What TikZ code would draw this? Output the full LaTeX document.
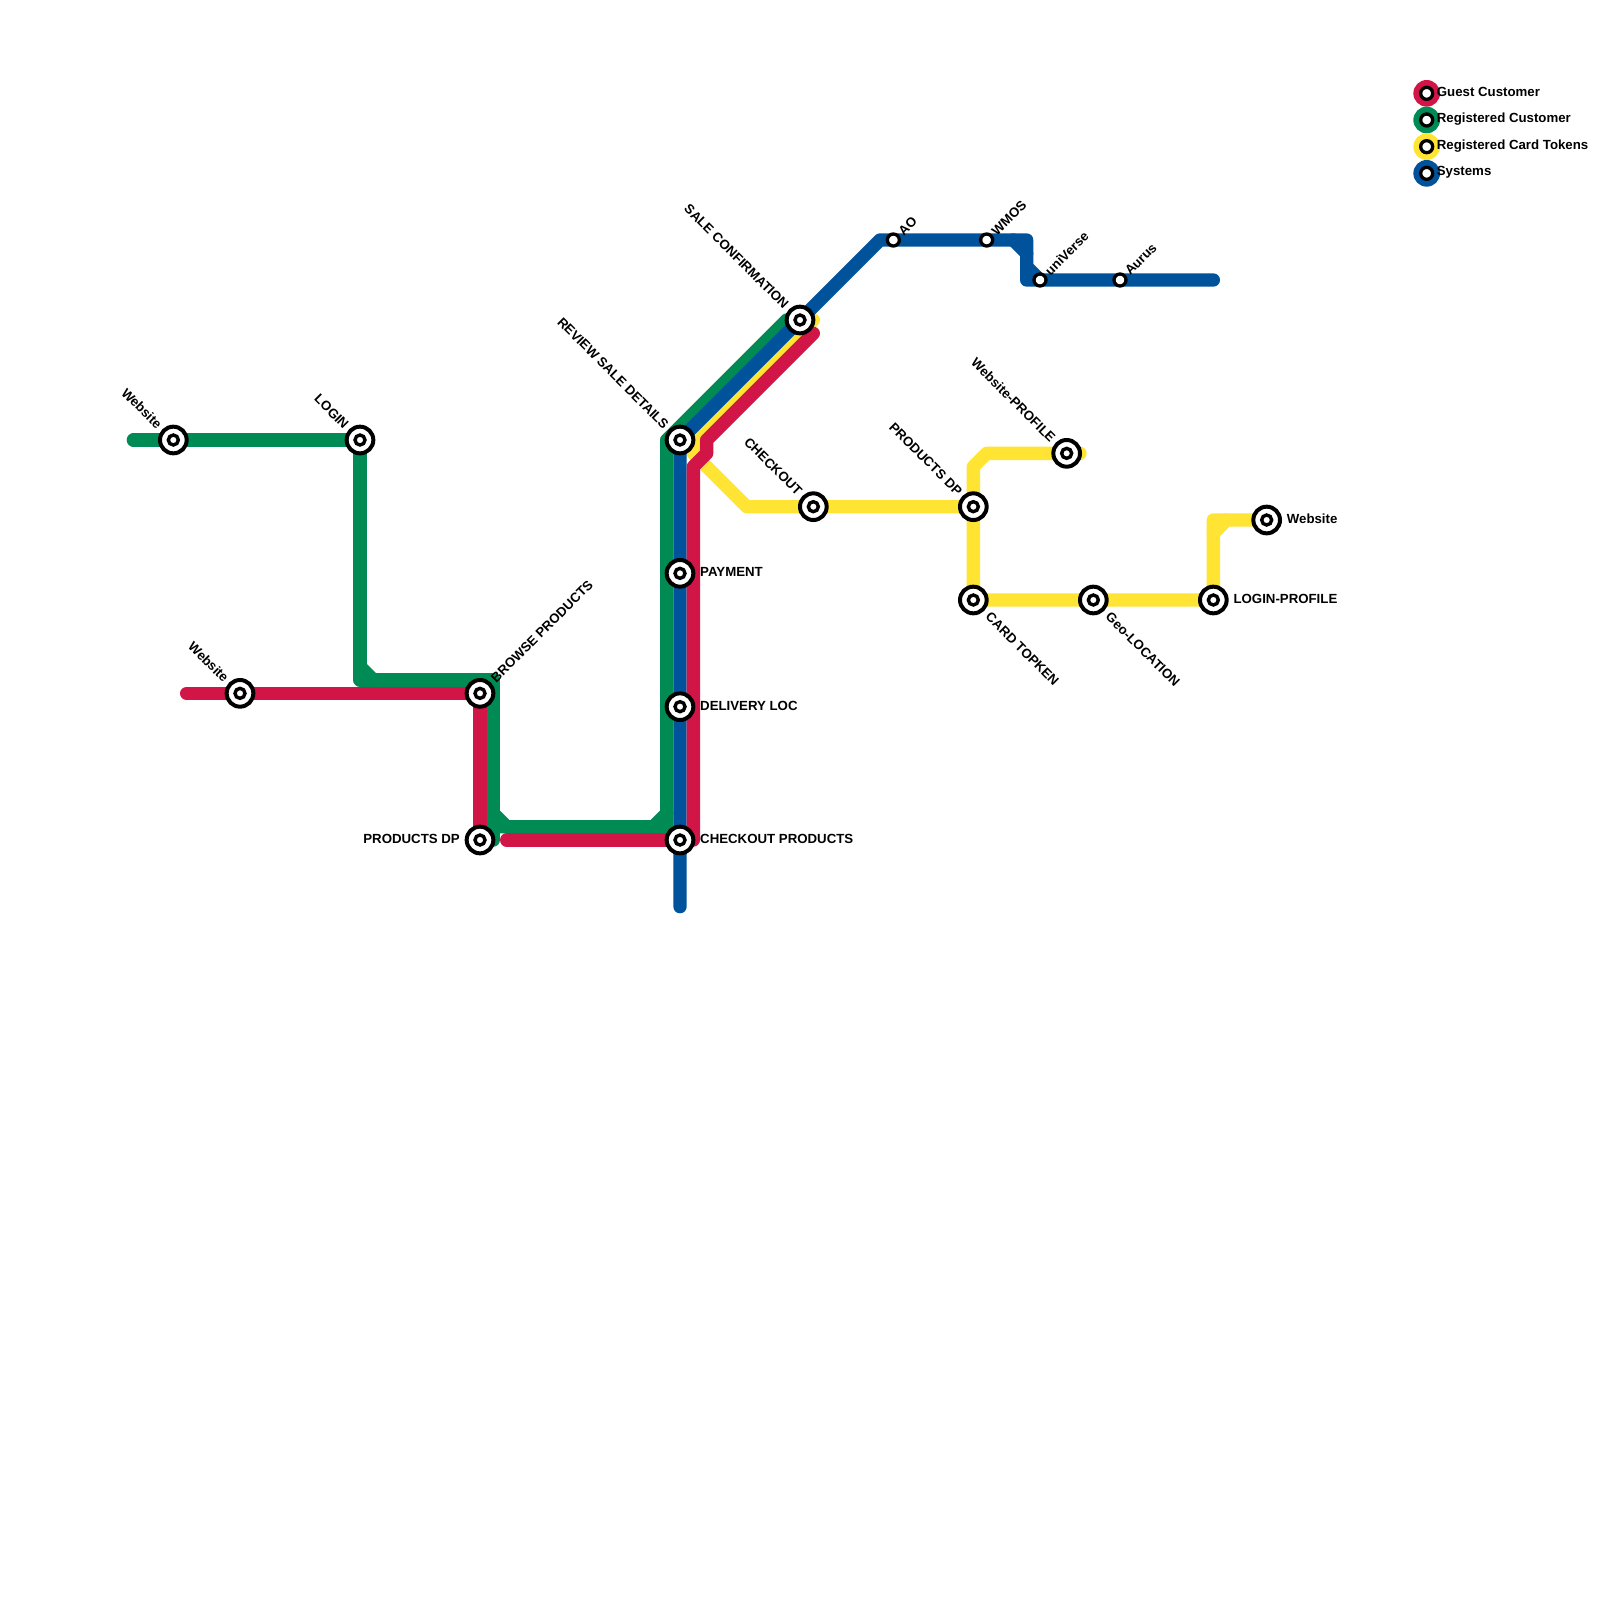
\documentclass[tikz,border=0pt]{standalone}
\usepackage{fontspec}
\setmainfont{Liberation Sans}
\usepackage{tikz}
\usetikzlibrary{backgrounds}
\definecolor{linered}{HTML}{D11547}
\definecolor{linegreen}{HTML}{008A54}
\definecolor{lineyellow}{HTML}{FFE433}
\definecolor{lineblue}{HTML}{00529B}

\begin{document}
\begin{tikzpicture}[
  x=13.3333pt, y=-13.3333pt,
  track/.style={line width=13.3333pt, line cap=round, line join=round},
  bigstop/.style={circle, draw=black, fill=white, line width=4pt, minimum size=26.67pt, inner sep=0pt, outer sep=0pt,
    path picture={\draw[line width=3.4pt] (path picture bounding box.center) circle (5pt);}},
  smallstop/.style={circle, draw=black, fill=white, line width=3.3pt, minimum size=12pt, inner sep=0pt, outer sep=0pt},
  lbl/.style={font=\fontsize{13.25}{15}\selectfont\bfseries, inner sep=0pt},
  nwlbl/.style={lbl, rotate=-45, anchor=east, xshift=-#1},
  nelbl/.style={lbl, rotate=45, anchor=west, xshift=#1},
  selbl/.style={lbl, rotate=-45, anchor=west, xshift=#1},
  elbl/.style={lbl, anchor=west, xshift=20pt, yshift=1pt},
  wlbl/.style={lbl, anchor=east, xshift=-20pt, yshift=1pt},
  keylbl/.style={lbl, anchor=west, xshift=10pt, yshift=1pt},
  keydisc/.style={circle, minimum size=26.67pt, inner sep=0pt, outer sep=0pt}
]
\useasboundingbox (0,0) rectangle (120,120);

% stops
\node[bigstop] (webgreen) at (13,33) {};
\node[bigstop] (login) at (27,33) {};
\node[bigstop] (webred) at (18,52) {};
\node[bigstop] (browse) at (36,52) {};
\node[bigstop] (prodleft) at (36,63) {};
\node[bigstop] (review) at (51,33) {};
\node[bigstop] (payment) at (51,43) {};
\node[bigstop] (delivery) at (51,53) {};
\node[bigstop] (checkprod) at (51,63) {};
\node[bigstop] (saleconf) at (60,24) {};
\node[bigstop] (checkout) at (61,38) {};
\node[bigstop] (prodright) at (73,38) {};
\node[bigstop] (webprofile) at (80,34) {};
\node[bigstop] (topken) at (73,45) {};
\node[bigstop] (geoloc) at (82,45) {};
\node[bigstop] (loginprofile) at (91,45) {};
\node[bigstop] (webyellow) at (95,39) {};
\node[smallstop] (ao) at (67,18) {};
\node[smallstop] (wmos) at (74,18) {};
\node[smallstop] (universe) at (78,21) {};
\node[smallstop] (aurus) at (84,21) {};

% labels
\node[nwlbl=19pt] at (webgreen) {Website};
\node[nwlbl=19pt] at (login) {LOGIN};
\node[nwlbl=19pt] at (webred) {Website};
\node[nelbl=18.5pt] at (browse) {BROWSE PRODUCTS};
\node[wlbl] at (prodleft) {PRODUCTS DP};
\node[nwlbl=19pt] at (review) {REVIEW SALE DETAILS};
\node[elbl] at (payment) {PAYMENT};
\node[elbl] at (delivery) {DELIVERY LOC};
\node[elbl] at (checkprod) {CHECKOUT PRODUCTS};
\node[nwlbl=19pt] at (saleconf) {SALE CONFIRMATION};
\node[nwlbl=19pt] at (checkout) {CHECKOUT};
\node[nwlbl=19pt] at (prodright) {PRODUCTS DP};
\node[nwlbl=19pt] at (webprofile) {Website-PROFILE};
\node[selbl=20.5pt] at (topken) {CARD TOPKEN};
\node[selbl=20.5pt] at (geoloc) {Geo-LOCATION};
\node[elbl] at (loginprofile) {LOGIN-PROFILE};
\node[elbl] at (webyellow) {Website};
\node[nelbl=10pt] at (ao) {AO};
\node[nelbl=10pt] at (wmos) {WMOS};
\node[nelbl=10pt] at (universe) {uniVerse};
\node[nelbl=10pt] at (aurus) {Aurus};

% bends and line ends
\coordinate (gstart) at (10,33);
\coordinate (gdown) at (27,51);
\coordinate (gcorner) at (37,51);
\coordinate (gfoot) at (37,63);
\coordinate (gleft) at (37,62);
\coordinate (gright) at (50,62);
\coordinate (gtop) at (50,33);
\coordinate (gend) at (59,24);
\coordinate (yend) at (61,24);
\coordinate (ybendA) at (52,33);
\coordinate (ybendB) at (52,34);
\coordinate (ybendC) at (56,38);
\coordinate (yupA) at (73,35);
\coordinate (yupB) at (74,34);
\coordinate (yprofile) at (81,34);
\coordinate (yrise) at (91,39);
\coordinate (bfoot) at (51,68);
\coordinate (btop) at (66,18);
\coordinate (bdropA) at (77,18);
\coordinate (bdropB) at (77,21);
\coordinate (bend) at (91,21);
\coordinate (rstart) at (14,52);
\coordinate (rbottom) at (38,63);
\coordinate (rfoot) at (52,63);
\coordinate (rkinkA) at (52,35);
\coordinate (rkinkB) at (53,34);
\coordinate (rkinkC) at (53,33);
\coordinate (rend) at (61,25);

\begin{pgfonlayer}{background}
% registered customer
\draw[track, linegreen] (gstart) -- (webgreen.center) -- (login.center) -- (gdown) -- (gcorner) -- (gfoot);
\draw[track, linegreen] (gleft) -- (gright) -- (gtop) -- (gend);
\draw[track, linegreen] (27,50) -- (28,51);
\draw[track, linegreen] (37,61) -- (38,62);
\draw[track, linegreen] (49,62) -- (50,61);
% card tokens
\draw[track, lineyellow] (yend) -- (ybendA) -- (ybendB) -- (ybendC) -- (checkout.center) -- (prodright.center);
\draw[track, lineyellow] (yprofile) -- (webprofile.center) -- (yupB) -- (yupA) -- (prodright.center) -- (topken.center) -- (geoloc.center) -- (loginprofile.center) -- (yrise) -- (webyellow.center);
\draw[track, lineyellow] (91,40) -- (92,39);
% systems
\draw[track, lineblue] (bfoot) -- (checkprod.center) -- (delivery.center) -- (payment.center) -- (review.center) -- (saleconf.center) -- (btop) -- (ao.center) -- (wmos.center) -- (bdropA) -- (bdropB) -- (universe.center) -- (aurus.center) -- (bend);
\draw[track, lineblue] (76,18) -- (77,19);
\draw[track, lineblue] (77,20) -- (78,21);
% guest customer
\draw[track, linered] (rstart) -- (webred.center) -- (browse.center) -- (prodleft.center);
\draw[track, linered] (rbottom) -- (checkprod.center);
\draw[track, linered] (rfoot) -- (rkinkA) -- (rkinkB) -- (rkinkC) -- (rend);
\end{pgfonlayer}

% key
\node[keydisc, fill=linered] (keyred) at (107,7) {};
\node[keydisc, fill=linegreen] (keygreen) at (107,9) {};
\node[keydisc, fill=lineyellow] (keyyellow) at (107,11) {};
\node[keydisc, fill=lineblue] (keyblue) at (107,13) {};
\node[smallstop] at (keyred) {};
\node[smallstop] at (keygreen) {};
\node[smallstop] at (keyyellow) {};
\node[smallstop] at (keyblue) {};
\node[keylbl] at (keyred) {Guest Customer};
\node[keylbl] at (keygreen) {Registered Customer};
\node[keylbl] at (keyyellow) {Registered Card Tokens};
\node[keylbl] at (keyblue) {Systems};
\end{tikzpicture}
\end{document}
